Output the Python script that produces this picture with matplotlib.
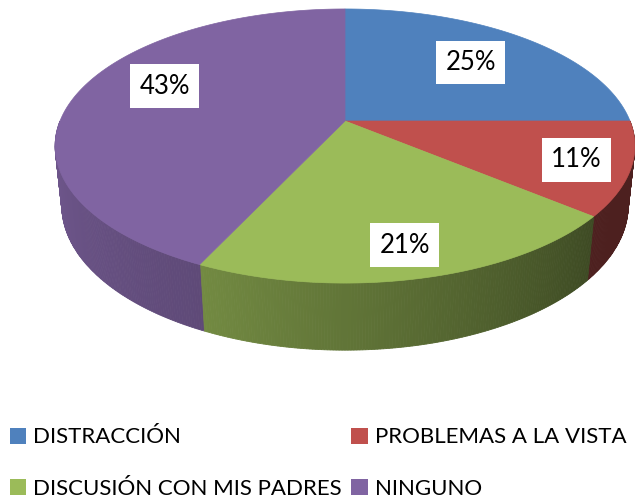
import numpy as np
import matplotlib.pyplot as plt
from matplotlib.patches import Polygon, Patch

# data
categories = ['DISTRACCIÓN', 'PROBLEMAS A LA VISTA', 'DISCUSIÓN CON MIS PADRES', 'NINGUNO']
values = [25, 11, 21, 43]
colors = ['#4F81BD', '#C0504D', '#9BBB59', '#8064A2']

# 3d pie geometry (pixel canvas)
W, H = 635, 497
CX, CY, R = 345, 121, 285
PHI = np.radians(27.7)
DIST = 4.85
THICK = 0.238
LABEL_R = [0.68, 0.82, 0.82, 0.72]
LABEL_SHIFT = [0, 0, 0, -10]

plt.rcParams['font.family'] = ['Lato', 'DejaVu Sans']


def proj(theta, r=1.0, z=0.0):
    th = np.radians(theta)
    X = r * np.cos(th)
    Y = r * np.sin(th)
    up = Y * np.sin(PHI) + z * np.cos(PHI)
    depth = Y * np.cos(PHI) - z * np.sin(PHI)
    s = DIST / (DIST + depth)
    return CX + R * X * s, CY - R * up * s


def shade(theta):
    # darker toward the right-front, like excel lighting
    return np.interp(theta, [-180, -166, -115, -40, 0], [0.86, 0.86, 0.74, 0.40, 0.40])


def darken(c, f):
    rgb = np.array([int(c[i:i + 2], 16) for i in (1, 3, 5)]) / 255.0
    return tuple(rgb * f)


fig = plt.figure(figsize=(W / 100, H / 100), dpi=100)
ax = fig.add_axes([0, 0, 1, 1])
ax.set_xlim(0, W)
ax.set_ylim(H, 0)
ax.axis('off')

total = float(sum(values))
bounds = [90 - 360 * sum(values[:i]) / total for i in range(len(values) + 1)]

# side wall: thin quads, far ones first
edges = np.linspace(-180, 0, 361)
quads = []
for a, b in zip(edges[:-1], edges[1:]):
    m = 0.5 * (a + b)
    k = 0
    for i in range(len(values)):
        lo, hi = bounds[i + 1], bounds[i]
        if lo <= m <= hi or lo <= m - 360 <= hi:
            k = i
    quads.append((np.sin(np.radians(m)), a, b, k, m))
quads.sort(key=lambda q: -q[0])
for _, a, b, k, m in quads:
    pts = [proj(a), proj(b), proj(b, z=-THICK), proj(a, z=-THICK)]
    col = darken(colors[k], shade(m))
    ax.add_patch(Polygon(pts, closed=True, facecolor=col, edgecolor=col, lw=0.6))

# top face
for i in range(len(values)):
    arc = np.linspace(bounds[i], bounds[i + 1], 200)
    xs, ys = proj(arc)
    pts = [(CX, CY)] + list(zip(xs, ys))
    ax.add_patch(Polygon(pts, closed=True, facecolor=colors[i], edgecolor=colors[i], lw=0.5))

# percent labels
for i, v in enumerate(values):
    mid = 0.5 * (bounds[i] + bounds[i + 1]) + LABEL_SHIFT[i]
    lx, ly = proj(mid, r=LABEL_R[i])
    ax.text(lx, ly, f'{v}%', ha='center', va='center', fontsize=18.5, color='black',
            bbox=dict(boxstyle='square,pad=0.36', facecolor='white', edgecolor='none'))

handles = [Patch(facecolor=c, edgecolor='none', label=n) for c, n in zip(colors, categories)]
order = [0, 2, 1, 3]
fig.legend(handles=[handles[i] for i in order], loc='upper left', bbox_to_anchor=(0.015, 0.14),
           ncol=2, frameon=False, fontsize=16, handlelength=0.75, handleheight=0.75,
           handletextpad=0.3, columnspacing=0.45, labelspacing=1.4, borderpad=0, borderaxespad=0)

fig.savefig('out.png', dpi=100)
